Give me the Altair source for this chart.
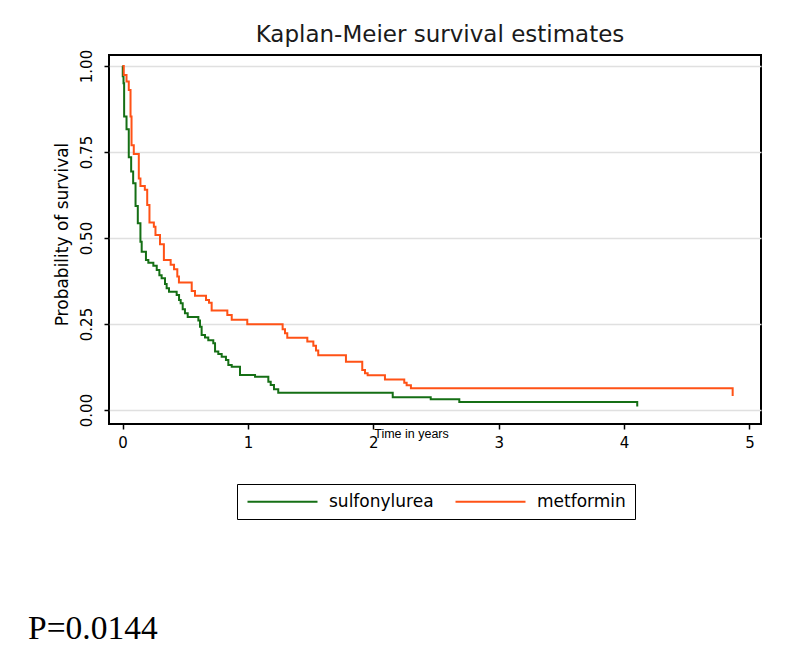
import altair as alt
import pandas as pd

# ---- data ----
groups = ["sulfonylurea", "metformin"]
colors = ["#156f15", "#ff5216"]

metformin_t = [0, 0.010, 0.032, 0.050, 0.064, 0.072, 0.090, 0.130, 0.143, 0.178,
               0.197, 0.215, 0.250, 0.263, 0.299, 0.330, 0.384, 0.411, 0.437, 0.450,
               0.552, 0.578, 0.666, 0.690, 0.711, 0.836, 0.871, 0.995, 1.277, 1.296,
               1.314, 1.474, 1.522, 1.543, 1.561, 1.782, 1.912, 1.934, 1.955, 2.093,
               2.247, 2.266, 2.300, 4.866]
metformin_s = [1.000, 0.974, 0.955, 0.930, 0.853, 0.770, 0.744, 0.673, 0.651, 0.640,
               0.596, 0.545, 0.533, 0.509, 0.482, 0.436, 0.422, 0.409, 0.388, 0.371,
               0.346, 0.332, 0.320, 0.312, 0.289, 0.276, 0.262, 0.249, 0.235, 0.223,
               0.210, 0.199, 0.187, 0.173, 0.159, 0.140, 0.116, 0.107, 0.101, 0.089,
               0.079, 0.072, 0.063, 0.041]

sulfonylurea_t = [0, 0.002, 0.008, 0.013, 0.032, 0.050, 0.069, 0.085, 0.104, 0.122,
                  0.143, 0.153, 0.187, 0.206, 0.246, 0.273, 0.294, 0.312, 0.339, 0.352,
                  0.371, 0.432, 0.451, 0.464, 0.480, 0.498, 0.520, 0.605, 0.618, 0.631,
                  0.658, 0.684, 0.724, 0.738, 0.764, 0.791, 0.825, 0.844, 0.871, 0.937,
                  1.057, 1.163, 1.182, 1.208, 1.242, 2.155, 2.458, 2.686, 4.105]
sulfonylurea_s = [1.000, 0.970, 0.950, 0.853, 0.816, 0.735, 0.693, 0.659, 0.593, 0.543,
                  0.489, 0.460, 0.436, 0.428, 0.419, 0.407, 0.392, 0.383, 0.366, 0.354,
                  0.344, 0.334, 0.320, 0.310, 0.293, 0.281, 0.270, 0.260, 0.242, 0.218,
                  0.211, 0.203, 0.194, 0.170, 0.163, 0.155, 0.145, 0.131, 0.126, 0.102,
                  0.097, 0.082, 0.073, 0.060, 0.050, 0.037, 0.031, 0.023, 0.010]

x_ticks = [0, 1, 2, 3, 4, 5]
y_ticks = [0, 0.25, 0.5, 0.75, 1.0]

title_text = "Kaplan-Meier survival estimates"
x_title = "Time in years"
y_title = "Probability of survival"
p_text = "P=0.0144"

# ---- build table ----
rows = []
for t, s in zip(sulfonylurea_t, sulfonylurea_s):
    rows.append({"time": t, "surv": s, "group": "sulfonylurea", "ord": len(rows)})
for t, s in zip(metformin_t, metformin_s):
    rows.append({"time": t, "surv": s, "group": "metformin", "ord": len(rows)})
df = pd.DataFrame(rows)

FONT = "DejaVu Sans"

lines = alt.Chart(df).mark_line(interpolate="step-after", strokeWidth=2).encode(
    x=alt.X("time:Q",
            scale=alt.Scale(domain=[-0.1077, 5.092], nice=False, zero=False),
            axis=alt.Axis(values=x_ticks, format="d", title=x_title, grid=False,
                          labelFontSize=15, labelPadding=6,
                          titleFont="Liberation Sans", titleFontSize=12.5,
                          titleFontWeight="normal",
                          titleX=302, titleY=9, titleBaseline="middle",
                          titleAlign="center")),
    y=alt.Y("surv:Q",
            scale=alt.Scale(domain=[-0.0407, 1.032], nice=False, zero=False),
            axis=alt.Axis(values=y_ticks, format=".2f", title=y_title, grid=True,
                          gridColor="#e0e0e0", gridWidth=1.5,
                          labelAngle=270, labelAlign="center", labelBaseline="bottom",
                          labelFontSize=15, labelPadding=10,
                          titleFontSize=17, titleFontWeight="normal",
                          titleX=-47, titleY=179, titleBaseline="middle",
                          titleAlign="center")),
    color=alt.Color("group:N",
                    scale=alt.Scale(domain=groups, range=colors),
                    legend=alt.Legend(orient="none", legendX=128, legendY=429,
                                      direction="horizontal", title=None,
                                      symbolType="M-5,0H5", symbolSize=196,
                                      symbolOffset=28, labelOffset=38,
                                      symbolStrokeWidth=2,
                                      labelFont=FONT, labelFontSize=17,
                                      labelColor="black",
                                      columnPadding=17, padding=9,
                                      strokeColor="black")),
    detail="group:N",
    order="ord:Q",
)

ptext = alt.Chart(pd.DataFrame({"label": [p_text]})).mark_text(
    font="Liberation Serif", fontSize=33.5, align="left", baseline="alphabetic",
    color="black"
).encode(x=alt.value(-81), y=alt.value(584), text="label:N")

chart = alt.layer(lines, ptext).properties(
    width=652, height=369,
    title=alt.TitleParams(title_text, font=FONT, fontSize=23, fontWeight="normal",
                          color="#1a1a1a", anchor="middle", frame="group",
                          offset=2, dx=5),
    autosize=alt.AutoSizeParams(type="none"),
    padding={"left": 101, "top": 47, "right": 29, "bottom": 240},
).configure_view(
    stroke="black", strokeWidth=2
).configure_axis(
    domain=False, tickColor="black", tickWidth=1.5, tickSize=5,
    labelFont=FONT, titleFont=FONT, labelColor="black", titleColor="black"
)

chart.save("out.html", embed_options={"renderer": "svg", "actions": False})
